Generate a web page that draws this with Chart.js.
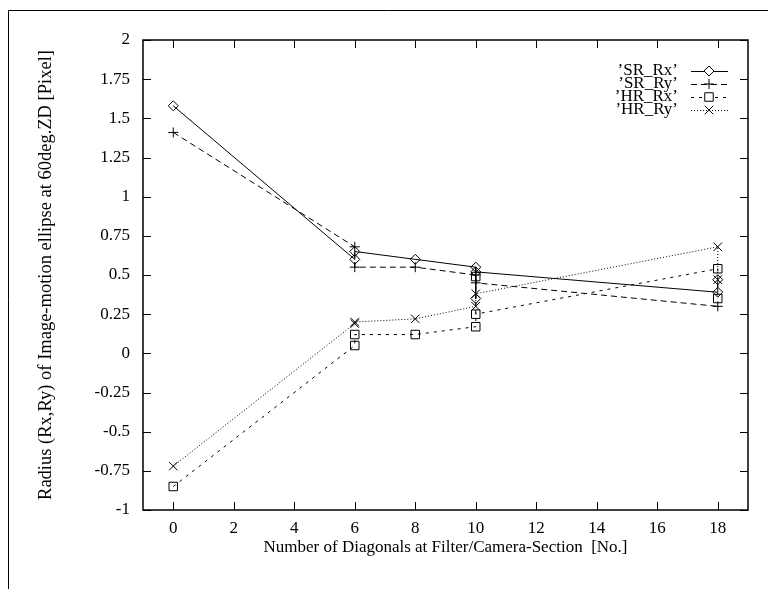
<!DOCTYPE html>
<html>
<head>
<meta charset="utf-8">
<script src="https://cdn.jsdelivr.net/npm/chart.js@4/dist/chart.umd.min.js"></script>
<style>
  body { margin: 0; background: #fff; }
  #wrap { position: relative; width: 772px; height: 589px; }
</style>
</head>
<body>
<div id="wrap"><canvas id="radiusChart" width="772" height="589"></canvas></div>
<script>
// values (x = number of diagonals, y = radius in pixel)
var srRxX = [0, 6, 6, 8, 10, 10, 10, 18, 18];
var srRxY = [1.58, 0.60, 0.65, 0.60, 0.55, 0.35, 0.52, 0.39, 0.47];

var srRyX = [0, 6, 6, 8, 10, 10, 18];
var srRyY = [1.41, 0.68, 0.55, 0.55, 0.50, 0.45, 0.30];

var hrRxX = [0, 6, 6, 8, 10, 10, 10, 18, 18];
var hrRxY = [-0.85, 0.05, 0.12, 0.12, 0.17, 0.49, 0.25, 0.54, 0.35];

var hrRyX = [0, 6, 6, 8, 10, 10, 18, 18];
var hrRyY = [-0.72, 0.19, 0.20, 0.22, 0.30, 0.38, 0.68, 0.47];

var seriesNames = ["\u2019SR_Rx\u2019", "\u2019SR_Ry\u2019", "\u2019HR_Rx\u2019", "\u2019HR_Ry\u2019"];
var xTicks = [0, 2, 4, 6, 8, 10, 12, 14, 16, 18];
var yTicks = [-1, -0.75, -0.5, -0.25, 0, 0.25, 0.5, 0.75, 1, 1.25, 1.5, 1.75, 2];

var serif = "'Liberation Serif', 'DejaVu Serif', serif";
var fontSize = 17;

function toPoints(xs, ys) {
    return xs.map(function (x, i) { return { x: x, y: ys[i] }; });
}

// gnuplot-like frame: border box, inward ticks on all four sides, outer page edge
var framePlugin = {
    id: 'frame',
    beforeDraw: function (chart) {
        var ctx = chart.ctx;
        ctx.save();
        ctx.fillStyle = '#fff';
        ctx.fillRect(0, 0, chart.width, chart.height);
        ctx.strokeStyle = '#000';
        ctx.lineWidth = 1;
        ctx.beginPath();
        ctx.moveTo(8.5, 589);
        ctx.lineTo(8.5, 10.5);
        ctx.lineTo(768, 10.5);
        ctx.stroke();
        ctx.restore();
    },
    afterDraw: function (chart) {
        var ctx = chart.ctx;
        var a = chart.chartArea;
        var xs = chart.scales.x, ys = chart.scales.y;
        var len = 8;
        ctx.save();
        ctx.strokeStyle = '#000';
        ctx.lineWidth = 1.5;
        ctx.strokeRect(a.left, a.top, a.right - a.left, a.bottom - a.top);
        ctx.lineWidth = 1;
        ctx.beginPath();
        xTicks.forEach(function (v) {
            var px = Math.round(xs.getPixelForValue(v)) + 0.5;
            ctx.moveTo(px, a.bottom); ctx.lineTo(px, a.bottom - len);
            ctx.moveTo(px, a.top); ctx.lineTo(px, a.top + len);
        });
        yTicks.forEach(function (v) {
            var py = Math.round(ys.getPixelForValue(v)) + 0.5;
            ctx.moveTo(a.left, py); ctx.lineTo(a.left + len, py);
            ctx.moveTo(a.right, py); ctx.lineTo(a.right - len, py);
        });
        ctx.stroke();
        ctx.restore();
    }
};

// key in the top right corner: label first, then line sample with marker
var keyPlugin = {
    id: 'key',
    afterDatasetsDraw: function (chart) {
        var ctx = chart.ctx;
        ctx.save();
        ctx.font = fontSize + 'px ' + serif;
        ctx.textAlign = 'right';
        ctx.textBaseline = 'middle';
        chart.data.datasets.forEach(function (ds, i) {
            var y = 71 + i * 13;
            ctx.fillStyle = '#000';
            ctx.fillText(ds.label, 678, y);
            ctx.strokeStyle = '#000';
            ctx.lineWidth = 1;
            ctx.setLineDash(ds.borderDash || []);
            ctx.beginPath();
            ctx.moveTo(691, y + 0.5);
            ctx.lineTo(728, y + 0.5);
            ctx.stroke();
            ctx.setLineDash([]);
            ctx.fillStyle = '#fff';
            Chart.helpers.drawPoint(ctx, {
                pointStyle: ds.pointStyle,
                radius: ds.pointRadius,
                borderWidth: 1
            }, 709, y);
        });
        ctx.restore();
    }
};

var canvas = document.getElementById("radiusChart");

if (canvas && canvas.getContext) {
    var radiusChart = new Chart(canvas, {
        type: 'line',
        data: {
            datasets: [
                {
                    label: seriesNames[0],
                    data: toPoints(srRxX, srRxY),
                    borderColor: '#000',
                    borderWidth: 1,
                    pointStyle: 'rectRot',
                    pointRadius: 5,
                    pointBackgroundColor: 'rgba(255,255,255,0)',
                    pointBorderColor: '#000',
                    pointBorderWidth: 1
                },
                {
                    label: seriesNames[1],
                    data: toPoints(srRyX, srRyY),
                    borderColor: '#000',
                    borderWidth: 1,
                    borderDash: [6, 4],
                    pointStyle: 'cross',
                    pointRadius: 5,
                    pointBorderColor: '#000',
                    pointBorderWidth: 1
                },
                {
                    label: seriesNames[2],
                    data: toPoints(hrRxX, hrRxY),
                    borderColor: '#000',
                    borderWidth: 1,
                    borderDash: [3, 5],
                    pointStyle: 'rect',
                    pointRadius: 6,
                    pointBackgroundColor: 'rgba(255,255,255,0)',
                    pointBorderColor: '#000',
                    pointBorderWidth: 1
                },
                {
                    label: seriesNames[3],
                    data: toPoints(hrRyX, hrRyY),
                    borderColor: '#000',
                    borderWidth: 1,
                    borderDash: [1, 2],
                    pointStyle: 'crossRot',
                    pointRadius: 6,
                    pointBorderColor: '#000',
                    pointBorderWidth: 1
                }
            ]
        },
        options: {
            responsive: false,
            animation: false,
            layout: { padding: { left: 31, right: 24, top: 40, bottom: 27 } },
            elements: { line: { tension: 0, fill: false } },
            plugins: {
                legend: { display: false },
                tooltip: { enabled: false }
            },
            scales: {
                x: {
                    type: 'linear',
                    min: -1,
                    max: 19,
                    grid: { display: false, drawTicks: false },
                    border: { display: false },
                    afterBuildTicks: function (s) { s.ticks = xTicks.map(function (v) { return { value: v }; }); },
                    afterFit: function (s) { s.height = 52; },
                    ticks: {
                        color: '#000',
                        padding: 8,
                        maxRotation: 0,
                        font: { family: serif, size: fontSize },
                        callback: function (v) { return String(v); }
                    },
                    title: {
                        display: true,
                        text: 'Number of Diagonals at Filter/Camera-Section  [No.]',
                        color: '#000',
                        padding: { top: 0, bottom: 4 },
                        font: { family: serif, size: fontSize }
                    }
                },
                y: {
                    type: 'linear',
                    min: -1,
                    max: 2,
                    grid: { display: false, drawTicks: false },
                    border: { display: false },
                    afterBuildTicks: function (s) { s.ticks = yTicks.map(function (v) { return { value: v }; }); },
                    afterFit: function (s) { s.width = 112; },
                    ticks: {
                        color: '#000',
                        padding: 13,
                        font: { family: serif, size: fontSize },
                        callback: function (v) { return String(v); }
                    },
                    title: {
                        display: true,
                        text: 'Radius (Rx,Ry) of Image-motion ellipse at 60deg.ZD [Pixel]',
                        color: '#000',
                        padding: { top: 4, bottom: 0 },
                        font: { family: serif, size: 18.5 }
                    }
                }
            }
        },
        plugins: [framePlugin, keyPlugin]
    });
}
</script>
</body>
</html>
